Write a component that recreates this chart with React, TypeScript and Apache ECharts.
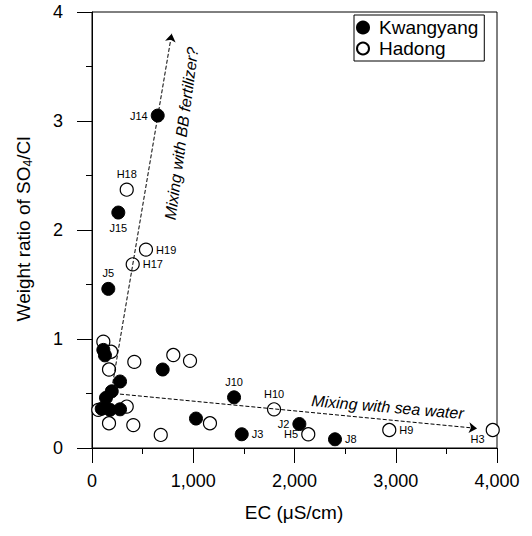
import React, { useEffect, useRef } from "react";
import * as echarts from "echarts";

// Kwangyang wells: EC (µS/cm), SO4/Cl weight ratio, well id
const ecKwangyang = [649, 260, 161, 1403, 1479, 2048, 2400, 698, 1027, 277, 112, 128, 195, 138, 96, 178, 277];
const ratioKwangyang = [3.05, 2.16, 1.46, 0.465, 0.126, 0.22, 0.08, 0.72, 0.27, 0.61, 0.9, 0.85, 0.52, 0.46, 0.36, 0.35, 0.355];
const idKwangyang = ["J14", "J15", "J5", "J10", "J3", "J2", "J8", "", "", "", "", "", "", "", "", "", ""];

// Hadong wells
const ecHadong = [343, 533, 402, 1798, 2136, 2936, 3958, 803, 968, 418, 112, 188, 168, 62, 343, 168, 408, 679, 1165];
const ratioHadong = [2.37, 1.82, 1.685, 0.355, 0.126, 0.165, 0.165, 0.853, 0.8, 0.79, 0.975, 0.883, 0.72, 0.35, 0.38, 0.227, 0.21, 0.12, 0.227];
const idHadong = ["H18", "H19", "H17", "H10", "H5", "H9", "H3", "", "", "", "", "", "", "", "", "", "", "", ""];

// Axis ranges and ticks
const xTicks = [0, 1000, 2000, 3000, 4000];
const yTicks = [0, 1, 2, 3, 4];

// Mixing trend arrows: [start, end] in (EC, ratio)
const arrowFertilizer = [[185, 0.486], [787, 3.8]];
const arrowSeaWater = [[158, 0.505], [3802, 0.18]];
const noteFertilizer = "Mixing with BB fertilizer?";
const noteSeaWater = "Mixing with sea water";
const noteFertilizerAt = [884, 2.885];
const noteSeaWaterAt = [2919, 0.376];

const FONT = "'Liberation Sans', Arial, Helvetica, sans-serif";

const labelPlacement: Record<string, { position: string; offset?: number[] }> = {
  J14: { position: "left" },
  J15: { position: "bottom" },
  J5: { position: "top" },
  J10: { position: "top" },
  J3: { position: "right" },
  J2: { position: "left" },
  J8: { position: "right" },
  H18: { position: "top" },
  H19: { position: "right" },
  H17: { position: "right" },
  H10: { position: "top" },
  H5: { position: "left" },
  H9: { position: "right" },
  H3: { position: "left", offset: [2, 9] },
};

function buildPoints(ec: number[], ratio: number[], ids: string[]) {
  return ec.map((x, i) => {
    const id = ids[i];
    const place = id ? labelPlacement[id] : null;
    return {
      value: [x, ratio[i]],
      name: id,
      label: place
        ? {
            show: true,
            position: place.position,
            offset: place.offset || [0, 0],
            distance: 3,
            formatter: id,
          }
        : { show: false },
    };
  });
}

export default function App() {
  const ref = useRef<HTMLDivElement>(null);

  useEffect(() => {
    if (!ref.current) return;
    const chart = echarts.init(ref.current, null, { renderer: "svg" });

    const arrowLine = {
      type: "dashed",
      color: "#000",
      width: 1,
      opacity: 1,
    };

    chart.setOption({
      animation: false,
      backgroundColor: "#fff",
      textStyle: { fontFamily: FONT, color: "#000" },
      grid: {
        left: 92,
        top: 12,
        width: 405,
        height: 436,
        show: true,
        borderColor: "#000",
        borderWidth: 1,
        backgroundColor: "transparent",
      },
      legend: {
        orient: "vertical",
        left: 354,
        top: 15,
        data: ["Kwangyang", "Hadong"],
        borderColor: "#000",
        borderWidth: 1,
        borderRadius: 0,
        padding: [3, 6, 3, 2],
        itemGap: 2,
        itemWidth: 22,
        itemHeight: 12,
        selectedMode: false,
        textStyle: {
          fontFamily: FONT,
          fontSize: 19,
          color: "#000",
          width: 104,
          overflow: "none",
        },
      },
      xAxis: {
        type: "value",
        min: xTicks[0],
        max: xTicks[xTicks.length - 1],
        interval: xTicks[1] - xTicks[0],
        axisLine: { show: true, onZero: false, lineStyle: { color: "#000", width: 1 } },
        axisTick: { show: true, inside: false, length: 15, lineStyle: { color: "#000" } },
        minorTick: { show: true, splitNumber: 2, length: 6, lineStyle: { color: "#000" } },
        splitLine: { show: false },
        axisLabel: {
          margin: 24,
          fontSize: 18,
          fontFamily: FONT,
          color: "#000",
          formatter: (v: number) => v.toLocaleString("en-US"),
        },
      },
      yAxis: {
        type: "value",
        min: yTicks[0],
        max: yTicks[yTicks.length - 1],
        interval: yTicks[1] - yTicks[0],
        axisLine: { show: true, onZero: false, lineStyle: { color: "#000", width: 1 } },
        axisTick: { show: true, inside: false, length: 15, lineStyle: { color: "#000" } },
        minorTick: { show: true, splitNumber: 2, length: 6, lineStyle: { color: "#000" } },
        splitLine: { show: false },
        axisLabel: {
          margin: 29,
          fontSize: 18,
          fontFamily: FONT,
          color: "#000",
        },
      },
      series: [
        {
          name: "Hadong",
          type: "scatter",
          symbol: "circle",
          symbolSize: 13,
          z: 2,
          itemStyle: { color: "#fff", borderColor: "#000", borderWidth: 1.2, opacity: 1 },
          label: { fontSize: 11, fontFamily: FONT, color: "#000" },
          emphasis: { disabled: true },
          data: buildPoints(ecHadong, ratioHadong, idHadong),
        },
        {
          name: "Kwangyang",
          type: "scatter",
          symbol: "circle",
          symbolSize: 13,
          z: 3,
          itemStyle: { color: "#000", borderColor: "#000", borderWidth: 1, opacity: 1 },
          label: { fontSize: 11, fontFamily: FONT, color: "#000" },
          emphasis: { disabled: true },
          data: buildPoints(ecKwangyang, ratioKwangyang, idKwangyang),
          markLine: {
            silent: true,
            symbol: ["none", "arrow"],
            symbolSize: 8,
            label: { show: false },
            lineStyle: arrowLine,
            itemStyle: { color: "#000" },
            emphasis: { disabled: true },
            data: [
              [{ coord: arrowFertilizer[0] }, { coord: arrowFertilizer[1] }],
              [{ coord: arrowSeaWater[0] }, { coord: arrowSeaWater[1] }],
            ],
          },
        },
      ],
    });

    const pFert = chart.convertToPixel({ gridIndex: 0 }, noteFertilizerAt) as number[];
    const pSea = chart.convertToPixel({ gridIndex: 0 }, noteSeaWaterAt) as number[];

    chart.setOption({
      graphic: [
        {
          type: "text",
          x: pFert[0],
          y: pFert[1],
          rotation: 1.438,
          style: {
            text: noteFertilizer,
            fontFamily: FONT,
            fontSize: 16,
            fontStyle: "italic",
            fill: "#000",
            align: "center",
            verticalAlign: "middle",
          },
        },
        {
          type: "text",
          x: pSea[0],
          y: pSea[1],
          rotation: -0.085,
          style: {
            text: noteSeaWater,
            fontFamily: FONT,
            fontSize: 16,
            fontStyle: "italic",
            fill: "#000",
            align: "center",
            verticalAlign: "middle",
          },
        },
        {
          type: "text",
          x: 294,
          y: 512,
          style: {
            text: "EC (\u03bcS/cm)",
            fontFamily: FONT,
            fontSize: 19,
            fill: "#000",
            align: "center",
            verticalAlign: "middle",
          },
        },
        {
          type: "text",
          x: 23,
          y: 229,
          rotation: Math.PI / 2,
          style: {
            text: "{a|Weight ratio of SO}{s|4}{a|/Cl}",
            fontFamily: FONT,
            fill: "#000",
            align: "center",
            verticalAlign: "middle",
            rich: {
              a: { fontSize: 19, fontFamily: FONT, fill: "#000", lineHeight: 22 },
              s: {
                fontSize: 12,
                fontFamily: FONT,
                fill: "#000",
                lineHeight: 12,
                verticalAlign: "bottom",
              },
            },
          },
        },
      ],
    });

    return () => chart.dispose();
  }, []);

  return (
    <div
      ref={ref}
      style={{ position: "fixed", left: 0, top: 0, width: 532, height: 536, background: "#fff" }}
    />
  );
}
